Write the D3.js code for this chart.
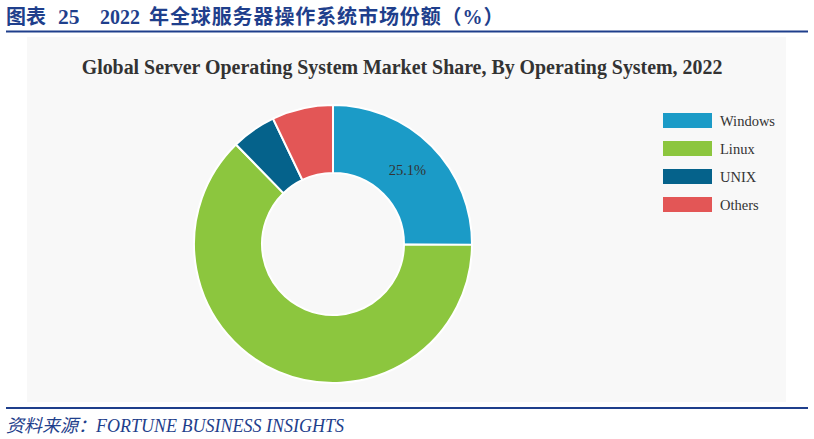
<!DOCTYPE html>
<html><head><meta charset="utf-8">
<script src="https://cdn.jsdelivr.net/npm/d3@7"></script>
<style>body{margin:0;background:#fff}svg{display:block}</style>
</head><body>
<svg id="c" width="814" height="439"></svg>
<script>
const categories = ["Windows", "Linux", "UNIX", "Others"];
const shares = [25.1, 62.6, 5.2, 7.1];
const colors = ["#1b9bc7", "#8cc63e", "#05628b", "#e35656"];
const labelShown = [true, false, false, false];

const svg = d3.select("#c");
const serif = "'Liberation Serif','Times New Roman',serif";

// header
const h = svg.append("text").attr("y", 24)
  .attr("fill", "#1f3f8c").attr("font-weight", "bold").attr("font-size", 20)
  .attr("font-family", serif + ",'Noto Sans CJK SC'");
h.append("tspan").attr("x", 6).text("图表");
h.append("tspan").attr("x", 58).attr("font-size", 21.5).text("25");
h.append("tspan").attr("x", 100).text("2022");
h.append("tspan").attr("x", 149).attr("letter-spacing", 0.9).text("年全球服务器操作系统市场份额（%）");
svg.append("rect").attr("x", 6).attr("y", 30.5).attr("width", 802).attr("height", 2).attr("fill", "#1f3f8c");

// chart box
svg.append("rect").attr("x", 27).attr("y", 37).attr("width", 759).attr("height", 365).attr("fill", "#f8f8f8");

svg.append("text").attr("x", 402).attr("y", 74).attr("text-anchor", "middle")
  .attr("fill", "#333").attr("font-weight", "bold").attr("font-size", 19.9)
  .attr("font-family", serif)
  .text("Global Server Operating System Market Share, By Operating System, 2022");

const data = categories.map((c, i) => ({name: c, value: shares[i], color: colors[i], show: labelShown[i]}));
const pie = d3.pie().value(d => d.value).sort(null);
const arc = d3.arc().innerRadius(71).outerRadius(139);
const g = svg.append("g").attr("transform", "translate(333,244)");
const arcs = pie(data);
g.selectAll("path").data(arcs).join("path")
  .attr("d", arc).attr("fill", d => d.data.color)
  .attr("stroke", "#fff").attr("stroke-width", 2);
g.selectAll("text").data(arcs.filter(d => d.data.show)).join("text")
  .attr("transform", d => `translate(${arc.centroid(d)})`)
  .attr("text-anchor", "middle").attr("dy", "0.35em")
  .attr("font-family", serif).attr("font-size", 14.5).attr("fill", "#333")
  .text(d => d.data.value.toFixed(1) + "%");

// legend
const y = d3.scalePoint().domain(categories).range([120.5, 204.5]);
const lg = svg.append("g");
lg.selectAll("rect").data(data).join("rect")
  .attr("x", 663).attr("y", d => y(d.name) - 7.5).attr("width", 49).attr("height", 15)
  .attr("fill", d => d.color);
lg.selectAll("text").data(data).join("text")
  .attr("x", 720).attr("y", d => y(d.name)).attr("dy", "0.35em")
  .attr("font-family", serif).attr("font-size", 14.5).attr("fill", "#333")
  .text(d => d.name);

// footer
svg.append("rect").attr("x", 6).attr("y", 407).attr("width", 802).attr("height", 2).attr("fill", "#1f3f8c");
svg.append("text").attr("x", 6).attr("y", 432)
  .attr("fill", "#1f3f8c").attr("font-style", "italic").attr("font-size", 18)
  .attr("font-family", serif + ",'Noto Sans CJK SC'")
  .text("资料来源：FORTUNE BUSINESS INSIGHTS");
</script>
</body></html>
